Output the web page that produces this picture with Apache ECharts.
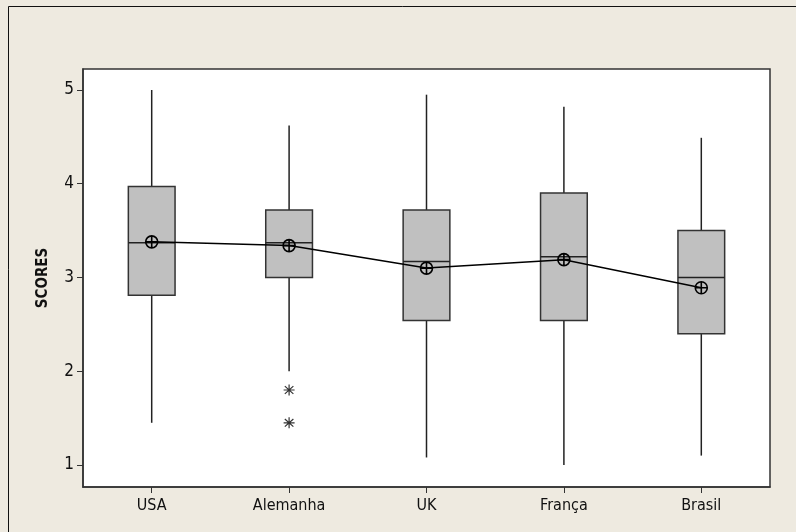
<!DOCTYPE html>
<html>
<head>
<meta charset="utf-8">
<script src="https://cdn.jsdelivr.net/npm/echarts@6/dist/echarts.min.js"></script>
<style>
  html, body { margin: 0; padding: 0; background: #EEEAE0; }
  #main { width: 796px; height: 532px; }
</style>
</head>
<body>
<div id="main"></div>
<script>
// valores
var paises = ['USA', 'Alemanha', 'UK', 'França', 'Brasil'];
var minimos = [1.45, 2.0, 1.08, 1.0, 1.1];
var q1s = [2.81, 3.0, 2.54, 2.54, 2.4];
var medianas = [3.37, 3.37, 3.17, 3.22, 3.0];
var q3s = [3.97, 3.72, 3.72, 3.9, 3.5];
var maximos = [5.0, 4.62, 4.95, 4.82, 4.49];
var medias = [3.38, 3.34, 3.1, 3.19, 2.89];
var outliers = [[1, 1.8], [1, 1.45]];
var yTicks = [1, 2, 3, 4, 5];

var caixas = paises.map(function (p, i) {
  return [i, minimos[i], q1s[i], medianas[i], q3s[i], maximos[i]];
});

var fonte = '"DejaVu Sans Condensed", "DejaVu Sans", sans-serif';

var chart = echarts.init(document.getElementById('main'));

var option = {
  backgroundColor: '#EEEAE0',
  animation: false,
  graphic: [{
    type: 'rect',
    shape: { x: 8.5, y: 6.5, width: 800, height: 540 },
    style: { fill: 'none', stroke: '#111', lineWidth: 1 },
    z: -1
  }],
  grid: {
    left: 83, top: 69, right: 26, bottom: 45,
    show: true,
    backgroundColor: '#fff',
    borderColor: '#333',
    borderWidth: 1.5
  },
  xAxis: {
    type: 'category',
    data: paises,
    boundaryGap: true,
    axisLine: { show: true, lineStyle: { color: '#333', width: 1.5 } },
    axisTick: { show: true, alignWithLabel: true, length: 6, lineStyle: { color: '#333' } },
    axisLabel: { color: '#111', fontFamily: fonte, fontSize: 16, margin: 11 },
    splitLine: { show: false }
  },
  yAxis: {
    type: 'value',
    min: 0.765,
    max: 5.224,
    name: 'SCORES',
    nameLocation: 'middle',
    nameGap: 32,
    nameRotate: 90,
    nameTextStyle: { color: '#111', fontFamily: fonte, fontSize: 15, fontWeight: 'bold' },
    axisLine: { show: true, lineStyle: { color: '#333', width: 1.5 } },
    axisTick: { show: true, length: 6, lineStyle: { color: '#333' },
      customValues: yTicks },
    axisLabel: { color: '#111', fontFamily: fonte, fontSize: 17, margin: 9,
      customValues: yTicks, showMinLabel: true, showMaxLabel: true },
    splitLine: { show: false }
  },
  series: [
    {
      type: 'custom',
      data: caixas,
      encode: { x: 0, y: [1, 2, 3, 4, 5] },
      renderItem: function (params, api) {
        var i = api.value(0);
        var w = api.size([1, 0])[0] * 0.34;
        var pMin = api.coord([i, api.value(1)]);
        var pQ1 = api.coord([i, api.value(2)]);
        var pMed = api.coord([i, api.value(3)]);
        var pQ3 = api.coord([i, api.value(4)]);
        var pMax = api.coord([i, api.value(5)]);
        var x = pMin[0];
        var traco = { stroke: '#222', lineWidth: 1.5 };
        return {
          type: 'group',
          children: [
            { type: 'line', shape: { x1: x, y1: pMax[1], x2: x, y2: pQ3[1] }, style: traco },
            { type: 'line', shape: { x1: x, y1: pQ1[1], x2: x, y2: pMin[1] }, style: traco },
            { type: 'rect', shape: { x: x - w / 2, y: pQ3[1], width: w, height: pQ1[1] - pQ3[1] },
              style: { fill: '#C0C0C0', stroke: '#333', lineWidth: 1.5 } },
            { type: 'line', shape: { x1: x - w / 2, y1: pMed[1], x2: x + w / 2, y2: pMed[1] }, style: traco }
          ]
        };
      },
      z: 2
    },
    {
      type: 'line',
      data: medias,
      symbol: 'path://M0,-10A10,10 0 1,1 0,10A10,10 0 1,1 0,-10ZM-10,0L10,0M0,-10L0,10',
      symbolSize: 12,
      showSymbol: true,
      lineStyle: { color: '#000', width: 1.5 },
      itemStyle: { color: 'transparent', borderColor: '#000', borderWidth: 1.6 },
      z: 3
    },
    {
      type: 'scatter',
      data: outliers,
      symbol: 'path://M0,-10L0,10M-9,0L9,0M-7,-7L7,7M-7,7L7,-7',
      symbolSize: 11,
      itemStyle: { color: 'transparent', borderColor: '#000', borderWidth: 1.2 },
      z: 3
    }
  ]
};

chart.setOption(option);
</script>
</body>
</html>
